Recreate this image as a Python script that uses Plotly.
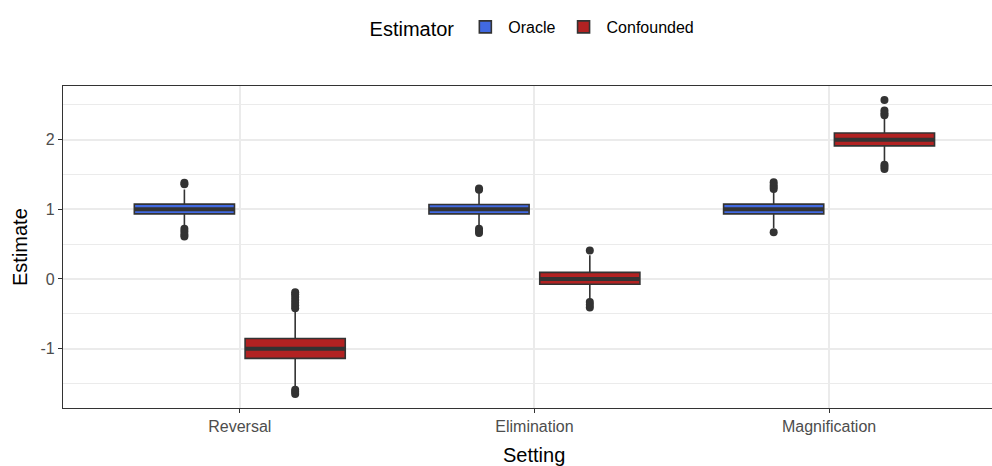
import plotly.graph_objects as go

# Settings on the x axis
settings = ["Reversal", "Elimination", "Magnification"]

# Oracle estimator: box summary per setting
oracle_q1 = [0.935, 0.935, 0.935]
oracle_median = [1.0, 1.0, 1.0]
oracle_q3 = [1.075, 1.07, 1.075]
oracle_lower = [0.73, 0.74, 0.73]
oracle_upper = [1.285, 1.26, 1.28]
oracle_outliers = [
    [0.61, 0.64, 0.68, 0.72, 1.36, 1.38],
    [0.66, 0.69, 0.72, 1.28, 1.30],
    [0.67, 1.29, 1.32, 1.35, 1.39],
]

# Confounded estimator: box summary per setting
conf_q1 = [-1.14, -0.075, 1.91]
conf_median = [-1.0, 0.0, 2.0]
conf_q3 = [-0.855, 0.095, 2.095]
conf_lower = [-1.55, -0.29, 1.68]
conf_upper = [-0.45, 0.34, 2.33]
conf_outliers = [
    [-1.59, -1.62, -1.65, -0.42, -0.38, -0.34, -0.30, -0.26, -0.22, -0.19],
    [-0.33, -0.37, -0.41, 0.41],
    [1.58, 1.61, 1.64, 2.35, 2.38, 2.42, 2.57],
]

y_ticks = [-1, 0, 1, 2]

FONT = "Liberation Sans, Arial, sans-serif"
EDGE = "#333333"
GRID = "#EBEBEB"

fig = go.Figure()


def add_estimator(name, colour, q1, med, q3, lo, hi, pts):
    fig.add_trace(go.Box(
        name=name, x=settings, y=pts,
        q1=q1, median=med, q3=q3, lowerfence=lo, upperfence=hi,
        offsetgroup=name, fillcolor=colour,
        line=dict(color=EDGE, width=1.6), whiskerwidth=0,
        boxpoints="all", jitter=0, pointpos=0,
        marker=dict(color=EDGE, size=8, line=dict(width=0)),
        hoverinfo="skip",
    ))
    # thicker median bar drawn on top of the box
    fig.add_trace(go.Box(
        name=name, x=settings,
        q1=med, median=med, q3=med, lowerfence=med, upperfence=med,
        offsetgroup=name, fillcolor="rgba(0,0,0,0)",
        line=dict(color=EDGE, width=4), whiskerwidth=0,
        boxpoints=False, showlegend=False, hoverinfo="skip",
    ))


add_estimator("Oracle", "#4169E1", oracle_q1, oracle_median, oracle_q3,
              oracle_lower, oracle_upper, oracle_outliers)
add_estimator("Confounded", "#B22222", conf_q1, conf_median, conf_q3,
              conf_lower, conf_upper, conf_outliers)

fig.update_layout(
    width=992, height=466,
    margin=dict(l=63, r=0, t=86, b=58),
    paper_bgcolor="white", plot_bgcolor="white",
    boxmode="group", boxgap=0.248, boxgroupgap=0.096,
    font=dict(family=FONT, color="#4D4D4D", size=16),
    legend=dict(
        orientation="h", xref="paper", x=0.5065, xanchor="center",
        yref="container", y=1 - 28 / 466, yanchor="middle",
        itemwidth=36,
        title=dict(text="Estimator", side="left",
                   font=dict(size=20, color="black", family=FONT)),
        font=dict(size=16, color="black", family=FONT),
        bgcolor="rgba(0,0,0,0)",
    ),
    showlegend=True,
)

fig.update_xaxes(
    type="category", categoryorder="array", categoryarray=settings,
    range=[-0.6, 2.553],
    showgrid=True, gridcolor=GRID, gridwidth=1.6,
    showline=True, linecolor=EDGE, linewidth=1.2, mirror=True,
    ticks="outside", ticklen=4, tickcolor=EDGE, tickwidth=1.1,
    tickfont=dict(size=16, color="#4D4D4D", family=FONT),
    zeroline=False,
)
fig.update_yaxes(
    range=[-1.852, 2.770],
    tickvals=y_ticks, ticktext=[str(v) for v in y_ticks],
    showgrid=True, gridcolor=GRID, gridwidth=1.6,
    minor=dict(dtick=0.5, tick0=0.5, showgrid=True,
               gridcolor=GRID, gridwidth=1.0),
    showline=True, linecolor=EDGE, linewidth=1.2, mirror=False,
    ticks="outside", ticklen=4, tickcolor=EDGE, tickwidth=1.1,
    tickfont=dict(size=16, color="#4D4D4D", family=FONT),
    zeroline=False,
)

# Axis titles
fig.add_annotation(text="Setting", xref="x", x=settings[1],
                   yref="paper", y=0, yanchor="middle", yshift=-47,
                   showarrow=False, font=dict(size=20, color="black", family=FONT))
fig.add_annotation(text="Estimate", xref="paper", x=0, xanchor="center",
                   xshift=-43, yref="paper", y=0.5, textangle=-90,
                   showarrow=False, font=dict(size=20, color="black", family=FONT))

fig.write_html("out.html")
